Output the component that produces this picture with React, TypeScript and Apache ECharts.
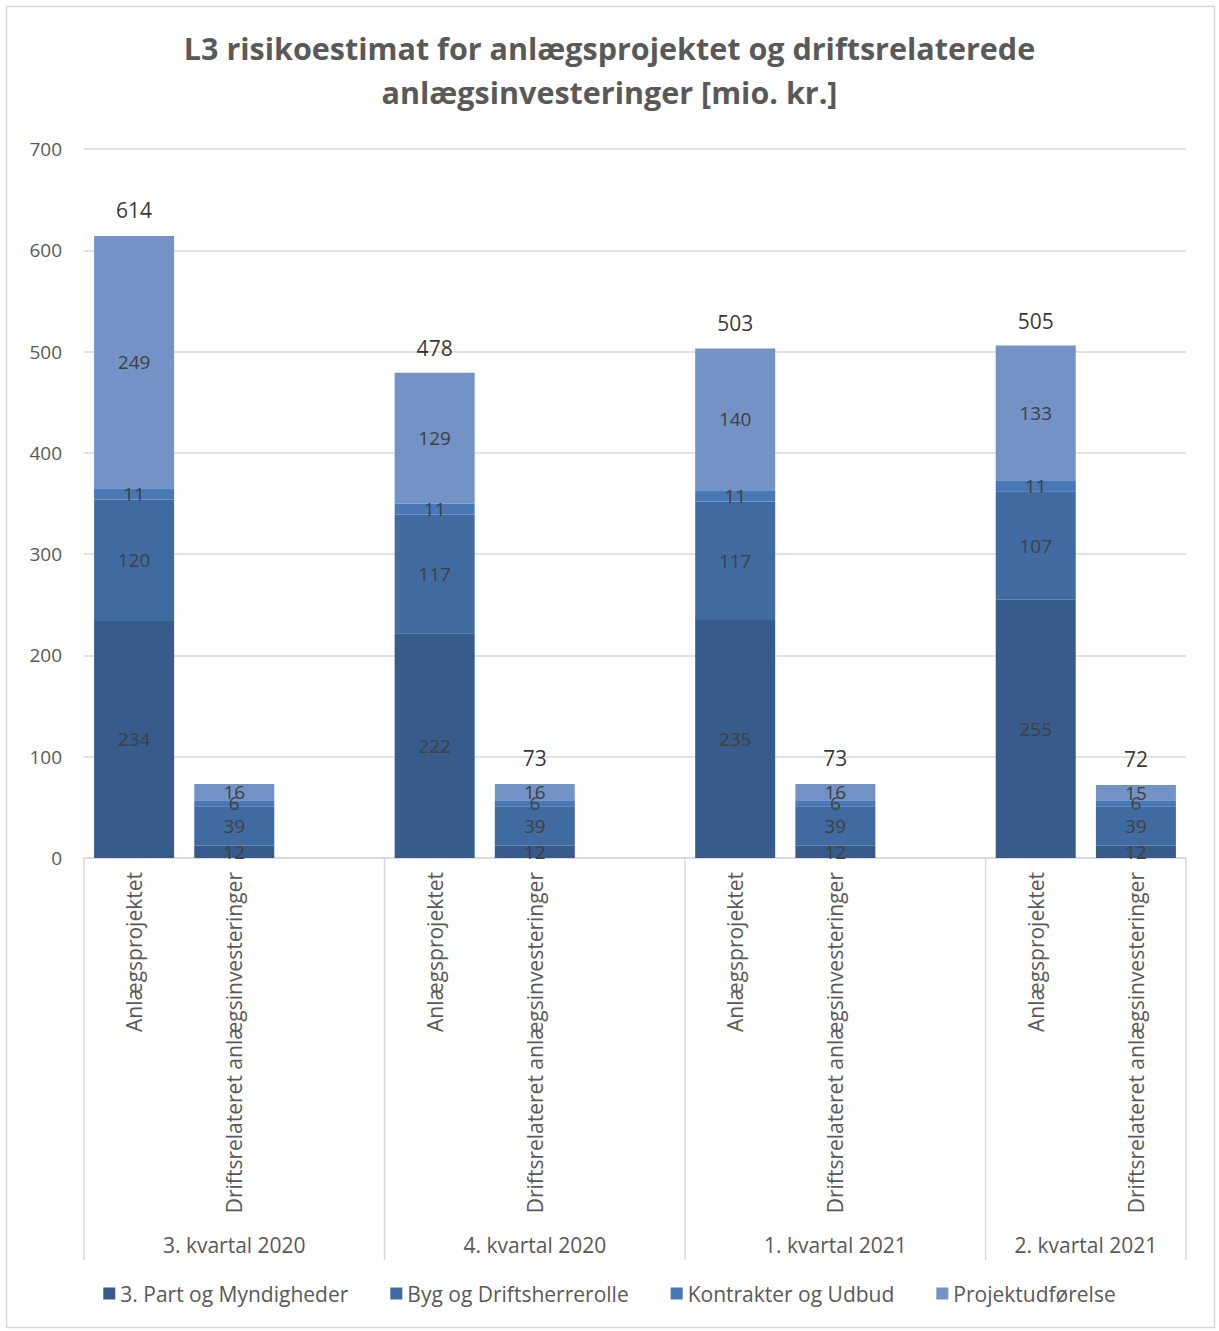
import React, { useEffect, useRef } from "react";
import * as echarts from "echarts";

const categories = [
  "Anlægsprojektet", "Driftsrelateret anlægsinvesteringer", "",
  "Anlægsprojektet", "Driftsrelateret anlægsinvesteringer", "",
  "Anlægsprojektet", "Driftsrelateret anlægsinvesteringer", "",
  "Anlægsprojektet", "Driftsrelateret anlægsinvesteringer",
];
const groups = ["3. kvartal 2020", "4. kvartal 2020", "1. kvartal 2021", "2. kvartal 2021"];
const seriesNames = ["3. Part og Myndigheder", "Byg og Driftsherrerolle", "Kontrakter og Udbud", "Projektudførelse"];
const partMyndigheder = [234, 12, "-", 222, 12, "-", 235, 12, "-", 255, 12];
const bygDrift = [120, 39, "-", 117, 39, "-", 117, 39, "-", 107, 39];
const kontrakter = [11, 6, "-", 11, 6, "-", 11, 6, "-", 11, 6];
const projekt = [249, 16, "-", 129, 16, "-", 140, 16, "-", 133, 15];
const totals = [614, "-", "-", 478, 73, "-", 503, 73, "-", 505, 72];
const yTicks = { min: 0, max: 700, interval: 100 };
const colors = ["#375B8A", "#406BA0", "#4878B6", "#7393C6"];

const FONT = "Open Sans";
const GREY = "#595959";

export default function App() {
  const ref = useRef<HTMLDivElement>(null);
  useEffect(() => {
    document.body.style.margin = "0";
    const chart = echarts.init(ref.current!, undefined, { renderer: "svg" });
    const values = [partMyndigheder, bygDrift, kontrakter, projekt];
    const barSeries = values.map((d, i) => ({
      name: seriesNames[i],
      type: "bar",
      stack: "total",
      data: d,
      barWidth: 80,
      itemStyle: { color: colors[i] },
      label: {
        show: true,
        position: "inside",
        color: "#404040",
        fontFamily: FONT,
        fontSize: 19,
      },
    }));
    const option: any = {
      animation: false,
      textStyle: { fontFamily: FONT },
      title: {
        text: "L3 risikoestimat for anlægsprojektet og driftsrelaterede\nanlægsinvesteringer [mio. kr.]",
        left: "center",
        top: 21,
        textStyle: { fontFamily: FONT, fontSize: 30.5, fontWeight: "bold", color: GREY, lineHeight: 44 },
      },
      legend: {
        bottom: 22,
        left: "center",
        data: seriesNames,
        icon: "rect",
        itemWidth: 12,
        itemHeight: 12,
        itemGap: 42,
        textStyle: { fontFamily: FONT, fontSize: 21, color: GREY },
      },
      grid: { left: 84, right: 33, top: 149, bottom: 473, containLabel: false },
      xAxis: {
        type: "category",
        data: categories,
        axisLine: { lineStyle: { color: "#d9d9d9", width: 1.5 } },
        axisTick: { show: false },
        axisLabel: {
          rotate: 90,
          interval: 0,
          margin: 14,
          color: GREY,
          fontFamily: FONT,
          fontSize: 21,
        },
      },
      yAxis: {
        type: "value",
        ...yTicks,
        axisLine: { show: false },
        axisTick: { show: false },
        splitLine: { lineStyle: { color: "#d9d9d9", width: 1.5 } },
        axisLabel: { color: GREY, fontFamily: FONT, fontSize: 19, margin: 22 },
      },
      series: [
        ...barSeries,
        {
          name: "Total",
          type: "scatter",
          data: totals,
          symbol: "rect",
          symbolSize: 1,
          itemStyle: { color: "rgba(0,0,0,0)" },
          label: {
            show: true,
            position: "top",
            distance: 15,
            color: "#000",
            fontFamily: FONT,
            fontSize: 21,
          },
        },
      ],
    };
    chart.setOption(option);

    const px = (i: number) => chart.convertToPixel({ xAxisIndex: 0 }, i) as number;
    const slotW = px(1) - px(0);
    const yTop = chart.convertToPixel({ yAxisIndex: 0 }, 0) as number;
    const yBottom = yTop + 402;
    const sepIdx = [0, 3, 6, 9];
    const seps = sepIdx.map((i) => px(i) - slotW / 2);
    seps.push(px(categories.length - 1) + slotW / 2);
    const groupCenters = [px(1), px(4), px(7), (px(9) + px(10)) / 2];
    const graphic: any[] = [
      {
        type: "rect",
        shape: { x: 6.5, y: 6.5, width: 1208, height: 1321 },
        style: { fill: "none", stroke: "#d9d9d9", lineWidth: 1.5 },
        silent: true,
      },
      ...seps.map((x) => ({
        type: "line",
        shape: { x1: x, y1: yTop, x2: x, y2: yBottom },
        style: { stroke: "#d9d9d9", lineWidth: 1.5 },
        silent: true,
      })),
      ...groups.map((g, i) => ({
        type: "text",
        x: groupCenters[i],
        y: 1245,
        style: {
          text: g,
          fill: GREY,
          font: `21px "${FONT}"`,
          align: "center",
          verticalAlign: "middle",
        },
        silent: true,
      })),
    ];
    chart.setOption({ graphic });
    return () => chart.dispose();
  }, []);
  return <div ref={ref} style={{ width: 1219, height: 1331 }} />;
}
